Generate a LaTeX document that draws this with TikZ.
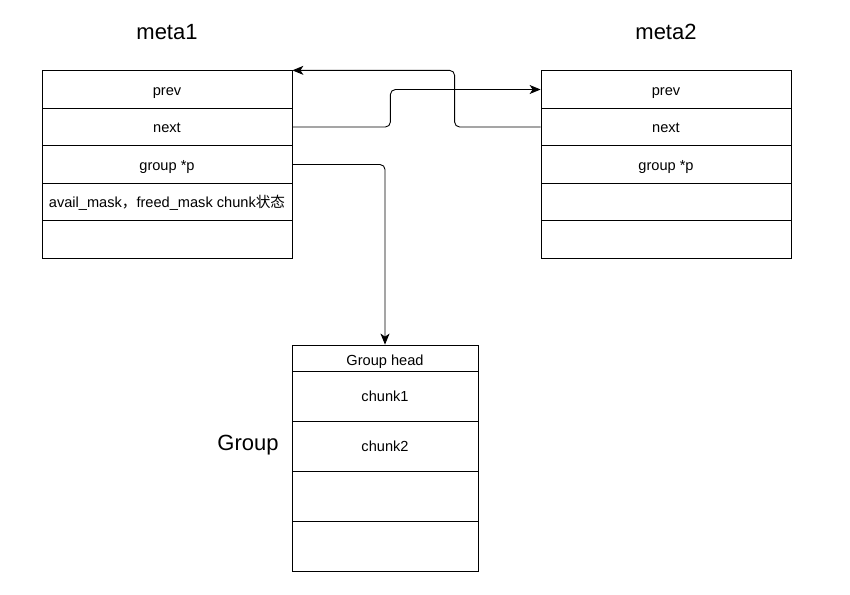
\documentclass[tikz,border=0pt]{standalone}
\usepackage{fontspec}
\setmainfont{Liberation Sans}
\newfontfamily\cjk{Noto Sans CJK SC}
\usetikzlibrary{arrows.meta}

\begin{document}
\begin{tikzpicture}[->,semithick,>={Stealth[length=11pt,width=9pt,inset=3pt]},x=1pt,y=-1pt]
    \tikzstyle{cell}=[draw=black, rectangle, line width=0.8pt, minimum width=250pt, minimum height=37.5pt, inner sep=0pt, text height=11.5pt, text depth=0pt, text=black, font=\fontsize{14.6}{17}\selectfont]
    \tikzstyle{gcell}=[cell, minimum width=186pt, minimum height=50pt]
    \tikzstyle{title}=[text=black, font=\fontsize{22}{26}\selectfont]
    \tikzstyle{link}=[line width=0.9pt, rounded corners=5pt]

    \useasboundingbox (0,0) rectangle (850,594);

    % meta1
    \node[title] (t1) at (167,32) {meta1};
    \node[cell] (m1prev) at (167,89.5)  {prev};
    \node[cell] (m1next) at (167,127)   {next};
    \node[cell] (m1grp)  at (167,164.5) {group *p};
    \node[cell] (m1mask) at (167,202)   {avail\_mask{\cjk ，}freed\_mask chunk{\cjk 状态}};
    \node[cell] (m1e)    at (167,239.5) {};

    % meta2
    \node[title] (t2) at (666,32) {meta2};
    \node[cell] (m2prev) at (666,89.5)  {prev};
    \node[cell] (m2next) at (666,127)   {next};
    \node[cell] (m2grp)  at (666,164.5) {group *p};
    \node[cell] (m2a)    at (666,202)   {};
    \node[cell] (m2b)    at (666,239.5) {};

    % group
    \node[title] (tg) at (248,445) {Group};
    \node[gcell, minimum height=26pt, text height=14pt] (ghead) at (385,358) {Group head};
    \node[gcell] (gc1) at (385,396) {chunk1};
    \node[gcell] (gc2) at (385,446) {chunk2};
    \node[gcell] (gc3) at (385,496) {};
    \node[gcell] (gc4) at (385,546) {};

    \draw[link] (m1next.east) -- ++(98,0) |- (m2prev.west);
    \draw[link] (m2next.west) -- ++(-86,0) |- (m1prev.north east);
    \draw[link] (m1grp.east) -| (ghead.north);
  \end{tikzpicture}
\end{document}
